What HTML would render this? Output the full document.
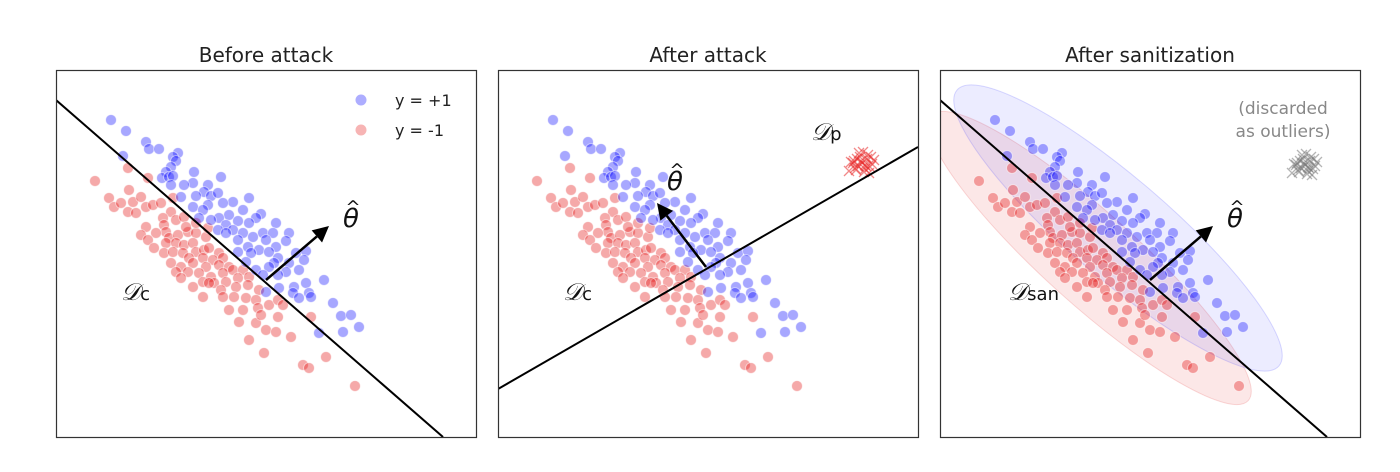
<!DOCTYPE html>
<html><head><meta charset="utf-8">
<style>
body{margin:0;background:#fff;}
svg{display:block;font-family:"DejaVu Sans","Liberation Sans",sans-serif;}
</style></head>
<body>
<svg id="fig" width="1400" height="472" viewBox="0 0 1400 472" xmlns="http://www.w3.org/2000/svg"></svg>
<script>
// panel-local data coordinates (x right, y down), frame is 420 x 367
const blueX=[55,70,90,93,103,67,122,117,120,115,110,106,113,117,138,165,137,128,115,152,148,140,155,162,125,193,177,167,152,137,147,187,205,200,173,163,143,155,182,193,220,170,177,162,187,207,217,233,197,210,182,230,192,220,203,213,240,250,182,195,222,218,233,248,213,200,243,230,222,268,250,238,223,210,237,253,243,255,277,285,295,303,287,263,170,190,207];
const blueY=[50,61,72,79,79,86,83,87,91,97,102,108,107,106,102,107,113,115,115,115,122,126,126,123,127,128,132,133,135,137,140,140,144,148,145,148,148,150,151,153,153,155,160,160,163,163,163,163,167,170,170,171,177,177,180,182,183,181,182,183,188,193,193,190,197,200,200,202,205,210,213,217,218,222,223,223,228,227,233,246,245,257,262,263,163,192,205];
const redX=[39,72,92,73,53,58,65,72,77,85,90,97,80,105,117,115,107,120,128,90,108,110,100,85,92,113,122,132,140,150,110,120,128,137,98,108,117,127,140,148,153,163,133,147,157,167,115,125,137,150,163,173,120,132,143,155,167,177,187,125,147,158,170,182,193,137,153,165,180,192,203,147,167,178,190,200,173,187,202,213,222,227,183,200,205,222,210,220,193,208,235,255,270,247,253,299,140,130,152];
const redY=[111,98,108,120,128,137,133,142,132,127,137,135,143,133,128,142,148,150,147,157,155,162,163,165,170,168,165,162,163,167,173,173,175,173,178,183,182,183,182,180,178,183,188,188,190,188,193,197,193,197,195,197,202,202,203,207,203,200,200,208,212,213,212,208,207,217,213,220,217,215,220,227,227,227,228,230,240,240,238,235,230,235,252,253,245,247,260,262,270,283,267,247,287,295,298,316,153,157,158];
const crossDX=[0,-4,5,-8,8,3,-2,6,-6,10,-11,2,-3,7,-1,4,-7,9,-13,1,12,-5,3,-9];
const crossDY=[0,3,-4,-2,4,6,-6,-8,7,1,-1,9,-10,10,-2,3,5,-6,8,-11,-3,-4,2,0];

const panels=[{x0:56,title:'Before attack'},{x0:498,title:'After attack'},{x0:940,title:'After sanitization'}];
const Y0=70,W=420,H=367;
const NS='http://www.w3.org/2000/svg';
const svg=document.getElementById('fig');
function mk(tag,attrs,parent){const e=document.createElementNS(NS,tag);for(const k in attrs)e.setAttribute(k,attrs[k]);(parent||svg).appendChild(e);return e;}

panels.forEach((p,pi)=>{
  const sx=v=>p.x0+v, sy=v=>Y0+v;
  const g=mk('g',{});
  
  
  const clipId='clip'+pi;
  const cp=mk('clipPath',{id:clipId},g);mk('rect',{x:p.x0,y:Y0,width:W,height:H},cp);
  const inner=mk('g',{'clip-path':'url(#'+clipId+')'},g);
  const t=mk('text',{x:p.x0+W/2,y:62,'text-anchor':'middle','font-size':20,fill:'#222'},g);
  t.textContent=p.title;
  
  
  if(pi===2){
    const e1=mk('ellipse',{cx:sx(150),cy:sy(188),rx:213,ry:46,fill:'rgba(230,70,70,0.13)',stroke:'rgba(230,70,70,0.2)',transform:`rotate(42 ${sx(150)} ${sy(188)})`},inner);
    
    
    const e2=mk('ellipse',{cx:sx(178),cy:sy(158),rx:212,ry:50,fill:'rgba(70,70,255,0.1)',stroke:'rgba(70,70,255,0.2)',transform:`rotate(40.6 ${sx(178)} ${sy(158)})`},inner);
    
    
  }
  redX.forEach((v,i)=>{const c=mk('circle',{cx:sx(v),cy:sy(redY[i]),r:5.4,fill:'rgba(228,30,30,0.38)',stroke:'rgba(255,255,255,0.6)','stroke-width':0.8},inner);
    
    });
  blueX.forEach((v,i)=>{const c=mk('circle',{cx:sx(v),cy:sy(blueY[i]),r:5.4,fill:'rgba(10,10,255,0.36)',stroke:'rgba(255,255,255,0.6)','stroke-width':0.8},inner);
    
    });
  if(pi>0){
    const col=pi===1?'rgba(232,40,40,0.55)':'rgba(120,120,120,0.55)';
    const cx0=pi===1?364:365, cy0=pi===1?93:95;
    crossDX.forEach((d,i)=>{const x=sx(cx0+d),y=sy(cy0+crossDY[i]);
      const pth=mk('path',{d:`M${x-5} ${y-5}L${x+5} ${y+5}M${x-5} ${y+5}L${x+5} ${y-5}`,stroke:col,'stroke-width':1.3},inner);
      
      });
  }
  let l,a;
  if(pi===1){l=[0,319,420,77];a=[208,197,159,133];}
  else {l=[0,30,387,367];a=[210,210,273,156];}
  const ln=mk('line',{x1:sx(l[0]),y1:sy(l[1]),x2:sx(l[2]),y2:sy(l[3]),stroke:'#000','stroke-width':2},inner);
  
  
  const ax1=sx(a[0]),ay1=sy(a[1]),ax2=sx(a[2]),ay2=sy(a[3]);
  const ang=Math.atan2(ay2-ay1,ax2-ax1),hl=16,hw=8;
  const bx=ax2-hl*Math.cos(ang),by=ay2-hl*Math.sin(ang);
  mk('line',{x1:ax1,y1:ay1,x2:bx,y2:by,stroke:'#000','stroke-width':2.5},inner);
  const hd=mk('polygon',{points:`${ax2},${ay2} ${bx+hw*Math.sin(ang)},${by-hw*Math.cos(ang)} ${bx-hw*Math.sin(ang)},${by+hw*Math.cos(ang)}`,fill:'#000'},inner);
  
  
  const th=pi===1?[177,120]:[295,157];
  const tg=mk('g',{},g);
  
  
  const tt=mk('text',{x:sx(th[0]),y:sy(th[1]),'text-anchor':'middle','font-size':26,'font-style':'italic',fill:'#111','font-family':'"DejaVu Sans",sans-serif'},tg);
  tt.textContent='θ';
  const hat=mk('text',{x:sx(th[0])+2,y:sy(th[1])-14,'text-anchor':'middle','font-size':18,fill:'#111','font-family':'"DejaVu Sans",sans-serif'},tg);
  hat.textContent='^';
  const dl=mk('text',{x:sx(pi===2?68:65),y:sy(230),'font-size':24,fill:'#111'},g);
  dl.innerHTML='<tspan font-style="italic" font-family="DejaVu Serif,serif">𝒟</tspan><tspan font-size="18">'+(pi===2?'san':'c')+'</tspan>';
  
  
  if(pi===1){const dp=mk('text',{x:sx(313),y:sy(70),'font-size':24,fill:'#111'},g);
    dp.innerHTML='<tspan font-style="italic" font-family="DejaVu Serif,serif">𝒟</tspan><tspan font-size="18">p</tspan>';
    
    }
  if(pi===2){
    const d1=mk('text',{x:sx(343),y:sy(44),'text-anchor':'middle','font-size':17,fill:'#888'},g);d1.textContent='(discarded';
    
    
    const d2=mk('text',{x:sx(343),y:sy(67),'text-anchor':'middle','font-size':17,fill:'#888'},g);d2.textContent='as outliers)';
    
    
  }
  if(pi===0){
    const lg=mk('g',{},g);
    
    
    mk('circle',{cx:361,cy:100,r:5.5,fill:'rgba(20,20,255,0.35)'},lg);
    mk('circle',{cx:361,cy:130,r:5.5,fill:'rgba(232,40,40,0.35)'},lg);
    const l1=mk('text',{x:395,y:106,'font-size':16,fill:'#222'},lg);l1.textContent='y = +1';
    const l2=mk('text',{x:395,y:136,'font-size':16,fill:'#222'},lg);l2.textContent='y = -1';
  }
  const fr=mk('rect',{x:p.x0+0.5,y:Y0+0.5,width:W,height:H,fill:'none',stroke:'#333','stroke-width':1.2},g);
  
  
});
</script>
</body></html>
